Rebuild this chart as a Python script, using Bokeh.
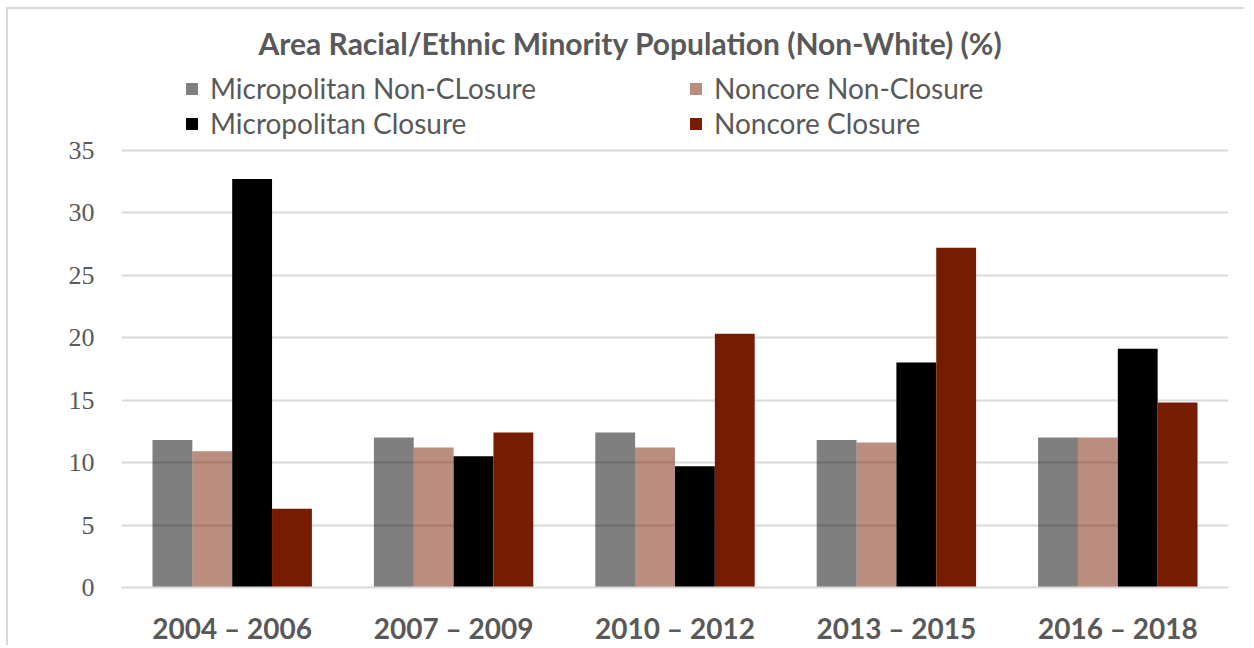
from bokeh.plotting import figure
from bokeh.models import ColumnDataSource, FactorRange, Range1d, FixedTicker
from bokeh.transform import dodge
from bokeh.embed import file_html
from bokeh.resources import INLINE

# ---- data ----
periods = ["2004 – 2006", "2007 – 2009", "2010 – 2012", "2013 – 2015", "2016 – 2018"]
micro_nonclosure = [11.8, 12.0, 12.4, 11.8, 12.0]
noncore_nonclosure = [10.9, 11.2, 11.2, 11.6, 12.0]
micro_closure = [32.7, 10.5, 9.7, 18.0, 19.1]
noncore_closure = [6.3, 12.4, 20.3, 27.2, 14.8]
series_labels = ["Micropolitan Non-CLosure", "Noncore Non-Closure",
                 "Micropolitan Closure", "Noncore Closure"]
y_ticks = [0, 5, 10, 15, 20, 25, 30, 35]

source = ColumnDataSource(dict(
    period=periods,
    mnc=micro_nonclosure,
    nnc=noncore_nonclosure,
    mc=micro_closure,
    nc=noncore_closure,
))

TEXT = "#595959"
GRID = "#d9d9d9"
RED = "#761c00"

p = figure(
    x_range=FactorRange(*periods, range_padding=0),
    y_range=Range1d(0, 42.1),
    width=1238, height=638,
    min_border_left=113, min_border_right=18,
    min_border_top=52, min_border_bottom=60,
    output_backend="svg", toolbar_location=None,
    title="Area Racial/Ethnic Minority Population (Non-White) (%)",
)
p.styles = {"margin-left": "6px", "margin-top": "7px",
            "border-top": "2px solid #d9d9d9", "border-left": "2px solid #d9d9d9"}

bw = 0.18
specs = [("mnc", -0.27, "#000000", 0.5),
         ("nnc", -0.09, RED, 0.5),
         ("mc", 0.09, "#000000", 1.0),
         ("nc", 0.27, RED, 1.0)]
for (col, off, color, alpha), lab in zip(specs, series_labels):
    p.vbar(x=dodge("period", off, range=p.x_range), top=col, width=bw,
           source=source, fill_color=color, fill_alpha=alpha,
           line_color=None, legend_label=lab)

# title
p.title.text_font = "Lato"
p.title.text_font_style = "bold"
p.title.text_font_size = "30px"
p.title.text_color = TEXT
p.title.align = "left"
p.title.offset = 137
p.title.standoff = 1

# axes
p.outline_line_color = None
p.xgrid.grid_line_color = None
p.ygrid.grid_line_color = GRID
p.ygrid.grid_line_width = 2
p.yaxis.ticker = FixedTicker(ticks=y_ticks)
p.yaxis.axis_line_color = None
p.yaxis.major_tick_line_color = None
p.yaxis.minor_tick_line_color = None
p.yaxis.major_label_text_font = "Liberation Serif"
p.yaxis.major_label_text_font_size = "26px"
p.yaxis.major_label_text_color = TEXT
p.yaxis.major_label_standoff = 21

p.xaxis.axis_line_color = GRID
p.xaxis.axis_line_width = 2
p.xaxis.major_tick_line_color = None
p.xaxis.minor_tick_line_color = None
p.xaxis.major_label_text_font = "Lato"
p.xaxis.major_label_text_font_style = "bold"
p.xaxis.major_label_text_font_size = "28px"
p.xaxis.major_label_text_color = TEXT
p.xaxis.major_label_standoff = 17

# legend
lg = p.legend[0]
lg.orientation = "horizontal"
lg.ncols = 2
lg.location = (63, 447)
lg.padding = 0
lg.margin = 0
lg.border_line_color = None
lg.background_fill_alpha = 0
lg.glyph_width = 15
lg.glyph_height = 15
lg.label_standoff = 11
lg.label_width = 477
lg.label_height = 29
lg.spacing = 1
lg.label_text_font = "Lato"
lg.label_text_font_size = "28px"
lg.label_text_color = TEXT

open("out.html", "w").write(file_html(p, INLINE))
